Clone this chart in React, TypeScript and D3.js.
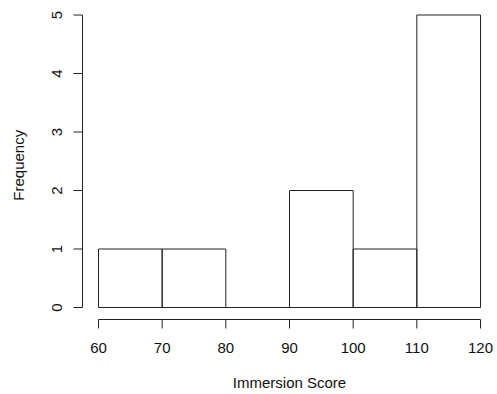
import React from "react";
import * as d3 from "d3";

// histogram of immersion scores (R hist, breaks of 10)
const binStarts = [60, 70, 80, 90, 100, 110];
const binWidth = 10;
const counts = [1, 1, 0, 2, 1, 5];
const xTicks = [60, 70, 80, 90, 100, 110, 120];
const yTicks = [0, 1, 2, 3, 4, 5];

const width = 497;
const height = 394;
const font = "'Liberation Sans', Arial, Helvetica, sans-serif";
const ink = "#222";

export default function App() {
  const x = d3.scaleLinear().domain([60, 120]).range([98.5, 480.5]);
  const y = d3.scaleLinear().domain([0, 5]).range([307.5, 15]);

  const axisY = 319.5;
  const axisX = 82.5;
  const tick = 9;

  const barPath = (lo: number, c: number) => {
    const p = d3.path();
    p.rect(x(lo), y(c), x(lo + binWidth) - x(lo), y(0) - y(c));
    return p.toString();
  };

  return (
    <svg
      width={width}
      height={height}
      style={{ position: "absolute", left: 0, top: 0, background: "#fff" }}
      fontFamily={font}
    >
      <g fill="none" stroke={ink} strokeWidth={1}>
        {binStarts.map((lo, i) => (
          <path key={lo} d={barPath(lo, counts[i])} />
        ))}
      </g>

      {/* x axis */}
      <g stroke={ink} strokeWidth={1}>
        <line x1={x(60)} x2={x(120)} y1={axisY} y2={axisY} />
        {xTicks.map((t) => (
          <line key={t} x1={x(t)} x2={x(t)} y1={axisY} y2={axisY + tick} />
        ))}
      </g>
      <g fontSize={15} fill="#111" textAnchor="middle">
        {xTicks.map((t) => (
          <text key={t} x={x(t)} y={352.5}>
            {t}
          </text>
        ))}
      </g>

      {/* y axis */}
      <g stroke={ink} strokeWidth={1}>
        <line x1={axisX} x2={axisX} y1={y(0)} y2={y(5)} />
        {yTicks.map((t) => (
          <line key={t} x1={axisX - tick} x2={axisX} y1={y(t)} y2={y(t)} />
        ))}
      </g>
      <g fontSize={15} fill="#111" textAnchor="middle">
        {yTicks.map((t) => (
          <text key={t} transform={`translate(62,${y(t)}) rotate(-90)`}>
            {t}
          </text>
        ))}
      </g>

      <text
        x={(x(60) + x(120)) / 2}
        y={388}
        fontSize={15}
        fill="#111"
        textAnchor="middle"
      >
        Immersion Score
      </text>
      <text
        transform={`translate(24,${(y(0) + y(5)) / 2 + 4}) rotate(-90)`}
        fontSize={15}
        fill="#111"
        textAnchor="middle"
      >
        Frequency
      </text>
    </svg>
  );
}
